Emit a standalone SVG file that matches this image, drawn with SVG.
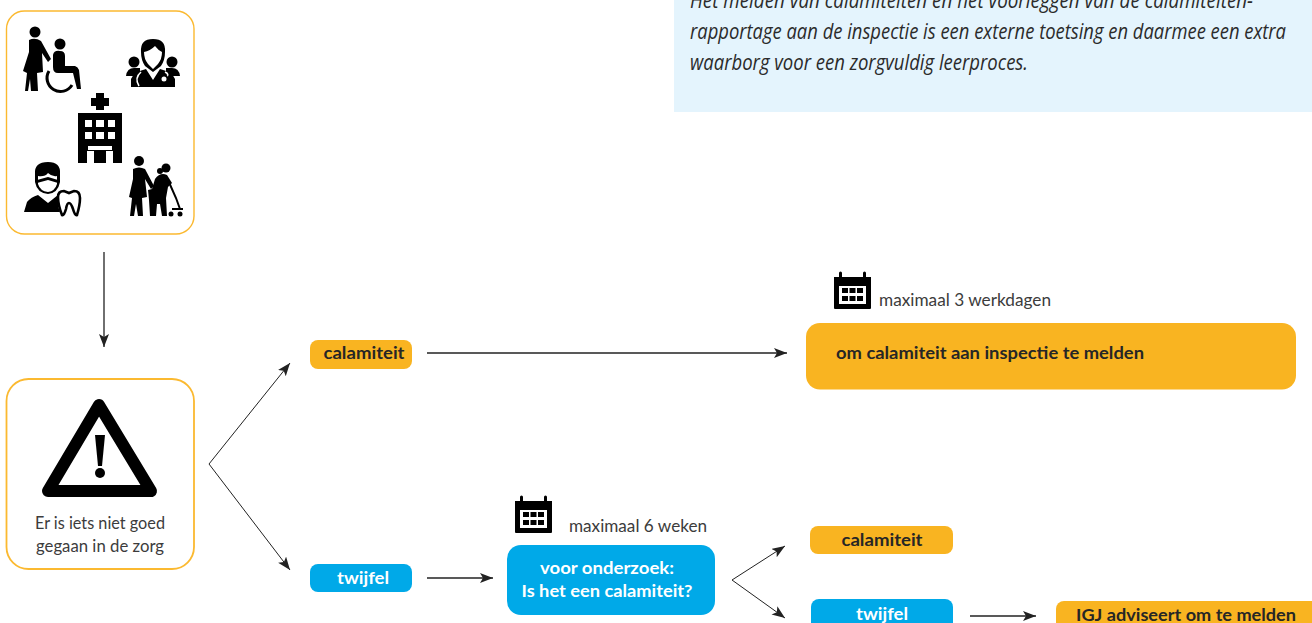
<svg xmlns="http://www.w3.org/2000/svg" width="1312" height="623" viewBox="0 0 1312 623">
<style>
text{font-family:Lato,"Liberation Sans",sans-serif;fill:#333}
.note{font-family:"Open Sans","Liberation Sans",sans-serif;font-style:italic;font-size:21.500px;fill:#2b2b2b}
.reg{font-size:17.500px;fill:#3c3c3c}
.b{font-weight:700;font-size:17.500px;fill:#262626}
.frame{fill:#fff;stroke:#fbb930}
.or{fill:#f9b421}
.bl{fill:#00a9e8}
.k{fill:#000}
.wf{fill:#fff}
.conn{fill:none;stroke:#222;stroke-width:1}
.conn2{fill:none;stroke:#222;stroke-width:1.6}
</style>
<defs>
<marker id="ah" markerUnits="userSpaceOnUse" markerWidth="14" markerHeight="12" refX="13" refY="5" orient="auto"><path d="M0,0L13,5L0,10L3,5Z" fill="#222"/></marker>
<g id="cal">
<path class="k" d="M0,5H5V1a1.500,1.500 0 0 1 3,0V5H29V1a1.500,1.500 0 0 1 3,0V5H37V36a1,1 0 0 1 -1,1H1a1,1 0 0 1 -1,-1Z"/>
<rect class="wf" x="5" y="14" width="27" height="18"/>
<path class="k" d="M8,16h6v5h-6zM15.500,16h6v5h-6zM23,16h6v5h-6zM8,24h6v5h-6zM15.500,24h6v5h-6zM23,24h6v5h-6z"/>
</g>
</defs>

<g id="note-panel">
<rect x="674" y="0" width="638" height="112" fill="#e4f4fd"/>
<text class="note" x="690" y="8" textLength="563" lengthAdjust="spacingAndGlyphs">Het melden van calamiteiten en het voorleggen van de calamiteiten-</text>
<text class="note" x="690" y="39" textLength="596" lengthAdjust="spacingAndGlyphs">rapportage aan de inspectie is een externe toetsing en daarmee een extra</text>
<text class="note" x="690" y="70" textLength="338" lengthAdjust="spacingAndGlyphs">waarborg voor een zorgvuldig leerproces.</text>
</g>

<g id="zorg-node">
<rect class="frame" x="6.500" y="11" width="187.500" height="223" rx="18" stroke-width="1.400"/>
<g id="icon-wheelchair">
<circle class="k" cx="35" cy="32" r="5.500"/>
<path class="k" d="M29,40Q35,37 41,41L51,59L48,62L42,53L43,72L37,73L38,91H31L30,79L28,91H25L27,73L23,71L29,52Z"/>
<circle class="k" cx="60" cy="44" r="5.500"/>
<path class="k" d="M53,55Q54,50 60,51Q65,51 65,56V66H75Q78,67 79,70L81,89H77L73,73H58Q53,73 53,67Z"/>
<path d="M49,71A13,13 0 1 0 72,85" fill="none" stroke="#000" stroke-width="3"/>
</g>
<g id="icon-doctor">
<circle class="k" cx="134" cy="62" r="5.500"/>
<circle class="k" cx="172" cy="62" r="5.500"/>
<path class="k" d="M126,76Q127,68 134,68L140,68V76Z"/>
<path class="k" d="M180,76Q179,68 172,68L166,68V76Z"/>
<path class="k" d="M131,87V79Q134,72 146,69L153,80L160,69Q172,72 175,79V87Z"/>
<path class="k" d="M141,52Q140,39 153,39Q166,39 165,52Q165,60 161,66L153,72L145,66Q141,60 141,52Z"/>
<path class="wf" d="M144,52Q150,51 155,46Q158,50 162,52Q162,59 158,64L153,69L148,64Q144,59 144,52Z"/>
<path d="M141,72Q134,78 139,86M165,72Q170,74 166,78" fill="none" stroke="#fff" stroke-width="1.600"/>
<circle cx="164" cy="79" r="3.500" fill="#fff" stroke="#000" stroke-width="2"/>
</g>
<g id="icon-hospital">
<path class="k" d="M96,93H104V98H109V106H104V110H96V106H91V98H96Z"/>
<rect class="k" x="78" y="113" width="44" height="50"/>
<path class="wf" d="M85,120h7v7h-7zM96,120h8v7h-8zM108,120h7v7h-7zM85,132h7v7h-7zM96,132h8v7h-8zM108,132h7v7h-7zM88,146h24v4h-24zM87,151h7v12h-7zM106,151h7v12h-7z"/>
</g>
<g id="icon-dentist">
<path class="k" d="M35,174Q34,162 48,162Q61,162 60,174V182Q58,193 48,194Q37,193 35,182Z"/>
<path class="wf" d="M38,176Q45,177 48,173Q52,177 57,176V184Q55,191 48,192Q40,191 38,184Z"/>
<path class="k" d="M37,180L48,177L58,180V183L48,180L37,183Z"/>
<path class="k" d="M24,212L27,202Q31,197 38,195L48,203L58,195Q60,196 62,197Q58,200 58,206L60,212Z"/>
<path d="M58,197Q58,191 64,191L69,193L74,191Q80,191 80,198Q80,205 77,215Q75,216 73,209Q71,203 69,203Q67,203 66,209Q64,216 62,215Q58,205 58,197Z" fill="#fff" stroke="#000" stroke-width="2.600"/>
</g>
<g id="icon-elderly">
<circle class="k" cx="139" cy="161" r="5"/>
<path class="k" d="M133,169Q139,166 145,169L154,186L151,189L145,179L147,197L142,198L143,216H138L136,204L134,216H130L132,198L129,197L133,179Z"/>
<circle class="k" cx="166" cy="168" r="4.500"/>
<circle class="k" cx="160" cy="171" r="3"/>
<path class="k" d="M155,179Q160,172 167,175L172,183L168,187L166,198L167,216H162L160,204L157,204L156,216H150L149,200L148,190L152,189Z"/>
<path d="M168,180L176,198L180,209M172,209H183" fill="none" stroke="#000" stroke-width="2"/>
<circle class="k" cx="171" cy="214" r="2.500"/>
<circle class="k" cx="180" cy="214" r="2.500"/>
</g>
</g>

<g id="melding-node">
<rect class="frame" x="6.500" y="379" width="187.500" height="190" rx="22" stroke-width="1.800"/>
<path d="M99,405L151,491H48Z" fill="#fff" stroke="#000" stroke-width="12" stroke-linejoin="round"/>
<path class="k" d="M95,435H105L102,466H98Z"/>
<circle class="k" cx="100" cy="473" r="5"/>
<text class="reg" x="100" y="529" text-anchor="middle" textLength="130" lengthAdjust="spacingAndGlyphs">Er is iets niet goed</text>
<text class="reg" x="100" y="552" text-anchor="middle" textLength="128" lengthAdjust="spacingAndGlyphs">gegaan in de zorg</text>
</g>

<g id="connectors">
<path class="conn" d="M104,252V347" marker-end="url(#ah)" style="stroke-width:1.300"/>
<path class="conn" d="M209,464L290,363" marker-end="url(#ah)"/>
<path class="conn" d="M209,464L290,570" marker-end="url(#ah)"/>
<path class="conn2" d="M427,353H787" marker-end="url(#ah)"/>
<path class="conn2" d="M427,578H493" marker-end="url(#ah)"/>
<path class="conn" d="M732,580L785,546" marker-end="url(#ah)"/>
<path class="conn" d="M732,580L785,618" marker-end="url(#ah)"/>
<path class="conn2" d="M970,616H1036" marker-end="url(#ah)"/>
</g>

<g id="calamiteit-1">
<rect class="or" x="310" y="340" width="102" height="29" rx="8"/>
<text class="b" x="364" y="359" text-anchor="middle" textLength="81" lengthAdjust="spacingAndGlyphs">calamiteit</text>
</g>
<g id="twijfel-1">
<rect class="bl" x="310" y="564" width="102" height="28" rx="8"/>
<text class="b" x="363" y="584" text-anchor="middle" textLength="52" lengthAdjust="spacingAndGlyphs" style="fill:#fff">twijfel</text>
</g>
<g id="melden-3-dagen">
<use href="#cal" x="834" y="272"/>
<text class="reg" x="879" y="306" textLength="172" lengthAdjust="spacingAndGlyphs">maximaal 3 werkdagen</text>
<rect class="or" x="806" y="323" width="490" height="66.500" rx="14"/>
<text class="b" x="836" y="359" textLength="308" lengthAdjust="spacingAndGlyphs">om calamiteit aan inspectie te melden</text>
</g>
<g id="onderzoek">
<use href="#cal" x="515" y="496"/>
<text class="reg" x="569" y="532" textLength="138" lengthAdjust="spacingAndGlyphs">maximaal 6 weken</text>
<rect class="bl" x="507" y="545" width="208" height="70" rx="14"/>
<text class="b" x="607" y="574" text-anchor="middle" textLength="134" lengthAdjust="spacingAndGlyphs" style="fill:#fff">voor onderzoek:</text>
<text class="b" x="607" y="597" text-anchor="middle" textLength="171" lengthAdjust="spacingAndGlyphs" style="fill:#fff">Is het een calamiteit?</text>
</g>
<g id="calamiteit-2">
<rect class="or" x="810" y="526" width="143" height="28" rx="8"/>
<text class="b" x="882" y="546" text-anchor="middle" textLength="81" lengthAdjust="spacingAndGlyphs">calamiteit</text>
</g>
<g id="twijfel-2">
<rect class="bl" x="811" y="599" width="142" height="34" rx="8"/>
<text class="b" x="882" y="620" text-anchor="middle" textLength="52" lengthAdjust="spacingAndGlyphs" style="fill:#fff">twijfel</text>
</g>
<g id="igj">
<rect class="or" x="1056" y="601" width="270" height="34" rx="8"/>
<text class="b" x="1076" y="621" textLength="220" lengthAdjust="spacingAndGlyphs">IGJ adviseert om te melden</text>
</g>
</svg>
